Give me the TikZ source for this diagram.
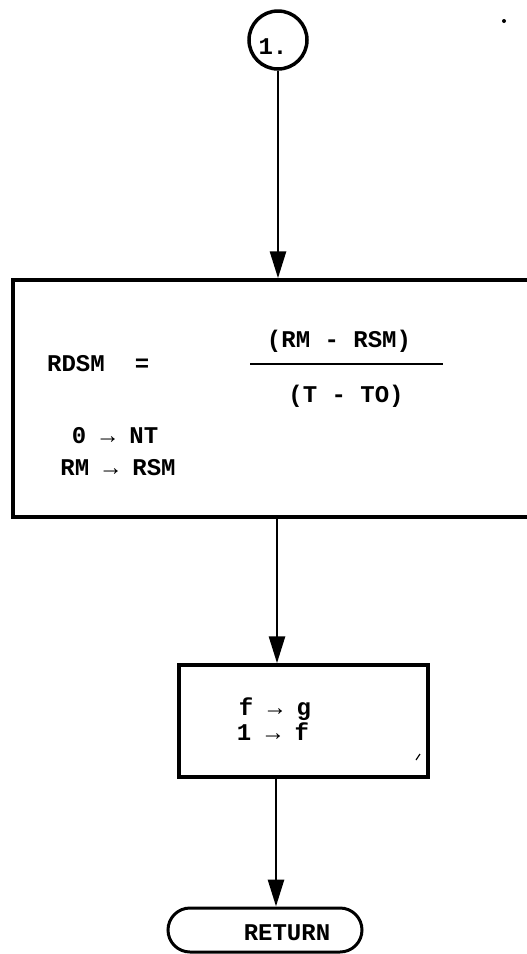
\documentclass[tikz,border=0pt]{standalone}
\usepackage{fontspec}
\setmainfont{Liberation Mono}
\usetikzlibrary{arrows.meta}
\tikzset{
  boxline/.style={draw, line width=3.5pt, inner sep=0pt},
  flowbox/.style={boxline, rectangle},
  termbox/.style={boxline, line width=3pt, rounded rectangle},
  conn/.style={circle, draw, line width=3.5pt, inner sep=0pt, minimum size=58pt},
  arr/.style={line width=2.8pt, -{Triangle[length=27pt,width=16pt]}},
  txt/.style={font=\fontsize{24}{26}\selectfont\bfseries, inner sep=0pt, anchor=base},
}
\usetikzlibrary{shapes.misc}
\begin{document}
\begin{tikzpicture}[x=1pt,y=-1pt]
\useasboundingbox (0,0) rectangle (527,954);
\clip (0,0) rectangle (527,954);
% nodes
\node[conn] (c) at (278,40) {};
\node[txt] (ct) at (273,54) {1.};
\node[flowbox, minimum width=530pt, minimum height=237pt] (b1) at (278,398.5) {};
\node[flowbox, minimum width=249pt, minimum height=112pt] (b2) at (303.5,721) {};
\node[termbox, minimum width=194pt, minimum height=44pt] (r) at (265,930) {};
% texts in box 1
\node[txt] (t1) at (76,371) {RDSM};
\node[txt] (t2) at (142,371) {=};
\node[txt] (t3) at (339,347) {(RM - RSM)};
\node[txt] (t4) at (346,402) {(T - TO)};
\node[txt] (t5) at (115,443) {0 → NT};
\node[txt] (t6) at (118,475) {RM → RSM};
\coordinate (fl) at (250,364);
\coordinate (fr) at (443,364);
\draw[line width=2pt] (fl) -- (fr);
% texts in box 2
\node[txt] (t7) at (275,715) {f → g};
\node[txt] (t8) at (273,740) {1 → f};
% return text
\node[txt] (t9) at (287,940) {RETURN};
% connectors
\coordinate (x1) at (277,0);
\coordinate (x2) at (276,0);
\draw[arr] (c.south) -- (c.south |- b1.north);
\draw[arr] (b1.south -| x1) -- (b2.north -| x1);
\draw[arr] (b2.south -| x2) -- (r.north -| x2);
% scan marks
\fill (504,21) circle (2pt);
\draw[line width=1.2pt] (416,760) -- (420,754);
\end{tikzpicture}
\end{document}
